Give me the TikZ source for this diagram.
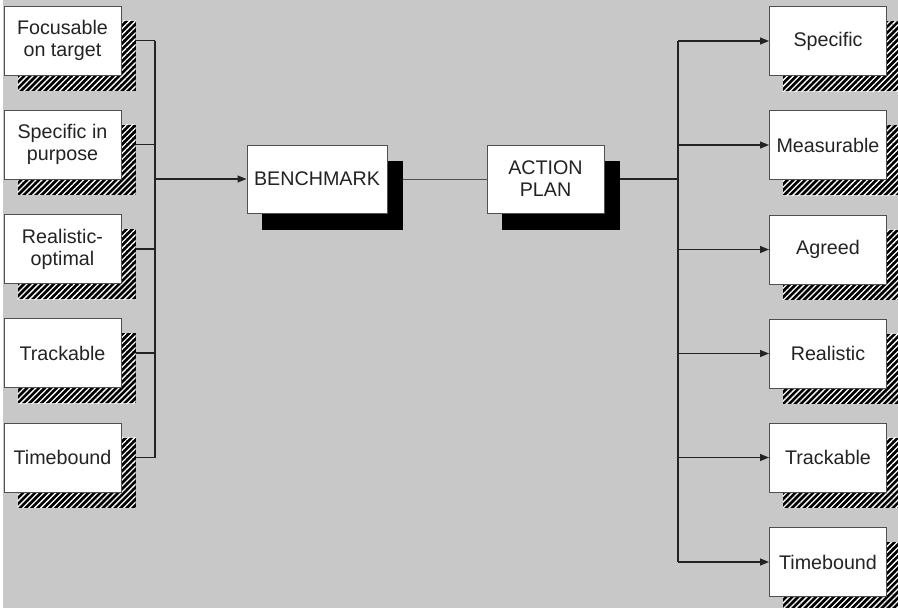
\documentclass[tikz,border=0pt]{standalone}
\usepackage{fontspec}
\setmainfont{Liberation Sans}
\usetikzlibrary{arrows.meta,patterns.meta}
\definecolor{paper}{RGB}{200,200,200}
\definecolor{ink}{RGB}{35,35,35}
\definecolor{edge}{RGB}{80,80,80}
\pgfdeclarelayer{paperlayer}
\pgfdeclarelayer{lines}
\pgfdeclarelayer{shadows}
\pgfsetlayers{paperlayer,lines,shadows,main}
\tikzset{
  smallbox/.style={draw=edge, line width=1pt, fill=white, text=ink,
    minimum width=117pt, minimum height=69pt, inner sep=2pt, align=center,
    font=\fontsize{19.7}{22}\selectfont},
  bigbox/.style={smallbox, minimum height=68pt},
  hatchshadow/.style={preaction={fill=black},
    pattern={Lines[angle=45,distance=4.2pt,line width=1.3pt]}, pattern color=white},
  solidshadow/.style={fill=black},
  wire/.style={draw=ink, line width=1.2pt},
  arrowwire/.style={wire, -{Triangle[length=9pt,width=7pt]}},
}
\begin{document}
\begin{tikzpicture}[x=1pt,y=-1pt]
\useasboundingbox (0,0) rectangle (898,608);
\begin{pgfonlayer}{paperlayer}
  \fill[paper] (3,0) rectangle (898,608);
\end{pgfonlayer}

% criteria feeding the benchmark
\node[smallbox] (L1) at (62.5,40.5) {Focusable\\on target};
\node[smallbox] (L2) at (62.5,144.5) {Specific in\\purpose};
\node[smallbox] (L3) at (62.5,249) {Realistic-\\optimal};
\node[smallbox] (L4) at (62.5,353) {Trackable};
\node[smallbox] (L5) at (62.5,457.5) {Timebound};

% central chain
\node[bigbox, minimum width=140pt] (B) at (317,179) {BENCHMARK};
\node[bigbox] (A) at (545.5,179) {ACTION\\PLAN};

% properties of the action plan
\node[smallbox] (R1) at (828,41) {Specific};
\node[smallbox] (R2) at (828,145) {Measurable};
\node[smallbox] (R3) at (828,249.5) {Agreed};
\node[smallbox] (R4) at (828,353.5) {Realistic};
\node[smallbox] (R5) at (828,457.5) {Trackable};
\node[smallbox] (R6) at (828,562) {Timebound};

\coordinate (jl) at (155,179);
\coordinate (jr) at (678,179);

\begin{pgfonlayer}{shadows}
  \foreach \n in {L1,L2,L3,L4,L5,R1,R2,R3,R4,R5,R6}
    \path[hatchshadow] ([shift={(14,15)}]\n.north west) rectangle ([shift={(14,15)}]\n.south east);
  \foreach \n in {B,A}
    \path[solidshadow] ([shift={(15,16)}]\n.north west) rectangle ([shift={(15,16)}]\n.south east);
\end{pgfonlayer}

\begin{pgfonlayer}{lines}
  \foreach \n in {L1,L2,L3,L4,L5}
    \draw[wire] (\n.east) -- (\n.east -| jl);
  \draw[wire] (L1.east -| jl) -- (L5.east -| jl);
  \draw[arrowwire] (jl) -- (B.west);
  \draw[wire, draw=edge, line width=1pt] (B.east) -- (A.west);
  \draw[wire, line width=1.8pt] (A.east) -- (jr);
  \draw[wire] (R1.west -| jr) -- (R6.west -| jr);
  \foreach \n in {R1,R2,R3,R4,R5,R6}
    \draw[arrowwire] (\n.west -| jr) -- (\n.west);
\end{pgfonlayer}
\end{tikzpicture}
\end{document}
